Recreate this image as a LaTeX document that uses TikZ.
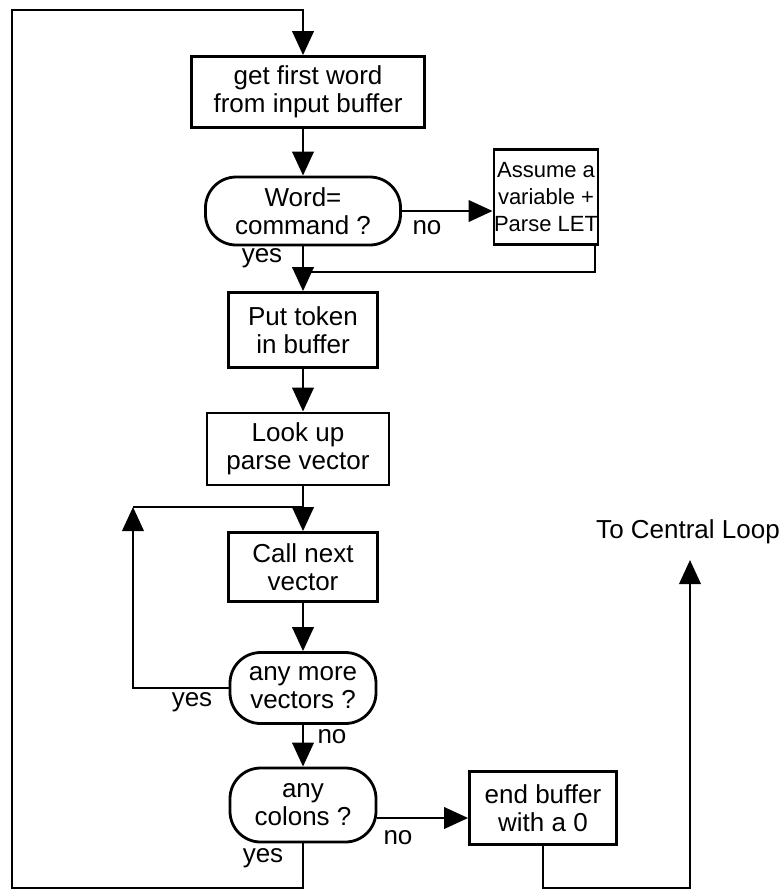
\documentclass[tikz,border=0pt]{standalone}
\usepackage{fontspec}
\setmainfont{Liberation Sans}
\usetikzlibrary{arrows.meta}
\begin{document}
\begin{tikzpicture}[x=0.75pt,y=-0.75pt,
  line width=2.1pt,
  font=\fontsize{19.5}{21}\selectfont,
  box/.style={draw, rectangle, align=center, inner sep=0pt, line width=2.1pt},
  dec/.style={draw, rectangle, rounded corners=23pt, align=center, inner sep=0pt, line width=2.1pt},
  flow/.style={-{Triangle[length=18pt,width=16pt]}},
  lbl/.style={inner sep=0pt}]
\useasboundingbox (0,0) rectangle (783,890);
% nodes
\node[box, minimum width=174.75pt, minimum height=53.25pt] (b1) at (308,92) {get first word\\from input buffer};
\node[dec, minimum width=146.25pt, minimum height=51pt] (w) at (303,211) {Word=\\command ?};
\node[box, minimum width=78pt, minimum height=71.25pt, font=\fontsize{16.5}{20}\selectfont] (a) at (546,197) {Assume a\\variable +\\Parse LET};
\node[box, minimum width=111.75pt, minimum height=56.25pt] (p) at (303,330) {Put token\\in buffer};
\node[box, minimum width=136.5pt, minimum height=54pt] (l) at (298,449) {Look up\\parse vector};
\node[box, minimum width=111.75pt, minimum height=51.75pt] (c) at (303,567) {Call next\\vector};
\node[dec, minimum width=109.5pt, minimum height=53.25pt] (am) at (303,688) {any more\\vectors ?};
\node[dec, minimum width=109.5pt, minimum height=55.5pt] (co) at (303,805) {any\\colons ?};
\node[box, minimum width=110.25pt, minimum height=54.75pt] (e) at (543,808) {end buffer\\with a 0};
\node[lbl] (ct) at (688,532) {To Central Loop};
% labels
\node[lbl] (no1) at (427,228) {no};
\node[lbl] (yes1) at (262,258) {yes};
\node[lbl] (yes2) at (192,702) {yes};
\node[lbl] (no2) at (332,737) {no};
\node[lbl] (no3) at (398,838) {no};
\node[lbl] (yes3) at (263,858) {yes};
% coordinates
\coordinate (tl) at (12,10);
\coordinate (tr) at (303,10);
\coordinate (bl) at (12,888);
\coordinate (br) at (690,888);
\coordinate (ctp) at (690,560);
\coordinate (m) at (303,272);
\coordinate (ad) at (595,245);
\coordinate (j) at (303,507);
\coordinate (jl) at (133,507);
% connectors
\draw[flow] (co.south) |- (bl) -- (tl) -- (tr) -- (tr |- b1.north);
\draw[flow] (b1.south -| w.north) -- (w.north);
\draw[flow] (w.east) -- (w.east -| a.west);
\draw (ad) |- (m);
\draw[flow] (w.south) -- (p.north);
\draw[flow] (p.south) -- (p.south |- l.north);
\draw[flow] (l.south -| c.north) -- (c.north);
\draw[flow] (am.west) -| (jl);
\draw (jl) -- (j);
\draw[flow] (c.south) -- (am.north);
\draw[flow] (am.south) -- (co.north);
\draw[flow] (co.east |- 0,818) -- (e.west |- 0,818);
\draw[flow] (e.south) |- (br) -- (ctp);
\end{tikzpicture}
\end{document}
